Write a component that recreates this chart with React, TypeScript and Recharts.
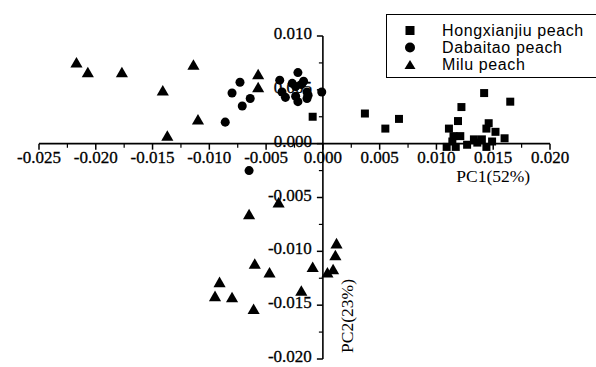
import React from "react";
import {
  ScatterChart,
  Scatter,
  XAxis,
  YAxis,
  ZAxis,
  ReferenceLine,
  ReferenceDot,
} from "recharts";

// PCA scores
const hongxianjiu = [
  { x: -0.0009, y: 0.0025 },
  { x: 0.0037, y: 0.0028 },
  { x: 0.0055, y: 0.0014 },
  { x: 0.0067, y: 0.0023 },
  { x: 0.0142, y: 0.0047 },
  { x: 0.0165, y: 0.0039 },
  { x: 0.0122, y: 0.0034 },
  { x: 0.0119, y: 0.0021 },
  { x: 0.0146, y: 0.0019 },
  { x: 0.0111, y: 0.0014 },
  { x: 0.0144, y: 0.0014 },
  { x: 0.0152, y: 0.0011 },
  { x: 0.0115, y: 0.0007 },
  { x: 0.0121, y: 0.0007 },
  { x: 0.016, y: 0.0005 },
  { x: 0.0133, y: 0.0004 },
  { x: 0.014, y: 0.0004 },
  { x: 0.0149, y: 0.0002 },
  { x: 0.0109, y: -0.0003 },
  { x: 0.0117, y: -0.0003 },
  { x: 0.0127, y: -0.0001 },
  { x: 0.0136, y: 0.0001 },
  { x: 0.0144, y: -0.0003 },
  { x: 0.0114, y: 0.0002 },
];

const dabaitao = [
  { x: -0.0073, y: 0.0057 },
  { x: -0.008, y: 0.0047 },
  { x: -0.0064, y: 0.0042 },
  { x: -0.0071, y: 0.0035 },
  { x: -0.0086, y: 0.002 },
  { x: -0.0065, y: -0.0025 },
  { x: -0.0038, y: 0.0059 },
  { x: -0.0036, y: 0.0048 },
  { x: -0.0033, y: 0.0043 },
  { x: -0.0027, y: 0.0056 },
  { x: -0.0024, y: 0.0053 },
  { x: -0.0024, y: 0.0044 },
  { x: -0.0022, y: 0.0066 },
  { x: -0.0022, y: 0.0039 },
  { x: -0.0019, y: 0.0055 },
  { x: -0.0017, y: 0.0058 },
  { x: -0.0014, y: 0.0048 },
  { x: -0.0014, y: 0.0042 },
  { x: -0.0013, y: 0.0045 },
  { x: -0.0001, y: 0.0048 },
];

const milu = [
  { x: -0.0217, y: 0.0074 },
  { x: -0.0207, y: 0.0065 },
  { x: -0.0177, y: 0.0065 },
  { x: -0.0114, y: 0.0072 },
  { x: -0.0141, y: 0.0048 },
  { x: -0.011, y: 0.0021 },
  { x: -0.0137, y: 0.0006 },
  { x: -0.0057, y: 0.0063 },
  { x: -0.0057, y: 0.0051 },
  { x: -0.0039, y: -0.0056 },
  { x: -0.0065, y: -0.0067 },
  { x: -0.006, y: -0.0113 },
  { x: -0.0047, y: -0.0121 },
  { x: -0.0091, y: -0.013 },
  { x: -0.0095, y: -0.0143 },
  { x: -0.008, y: -0.0144 },
  { x: -0.0061, y: -0.0155 },
  { x: -0.0019, y: -0.0138 },
  { x: -0.0009, y: -0.0116 },
  { x: 0.0004, y: -0.0121 },
  { x: 0.0009, y: -0.0118 },
  { x: 0.0011, y: -0.0105 },
  { x: 0.0012, y: -0.0094 },
];

const xTicks = [-0.025, -0.02, -0.015, -0.01, -0.005, 0, 0.005, 0.01, 0.015, 0.02];
const xMinorTicks = [-0.0225, -0.0175, -0.0125, -0.0075, -0.0025, 0.0025, 0.0075, 0.0125, 0.0175];
const yTicks = [-0.02, -0.015, -0.01, -0.005, 0, 0.005, 0.01];
const yMinorTicks = [-0.0175, -0.0125, -0.0075, -0.0025, 0.0025, 0.0075];

const legendItems = [
  { name: "Hongxianjiu peach", symbol: "square" },
  { name: "Dabaitao peach", symbol: "circle" },
  { name: "Milu peach", symbol: "triangle" },
];

const serif = "'Liberation Serif', 'Times New Roman', serif";
const sans = "'Liberation Sans', Arial, sans-serif";

function LegendIcon({ symbol }: { symbol: string }) {
  if (symbol === "square") return <rect x={18.5} y={4} width={9} height={9} fill="#000" />;
  if (symbol === "circle") return <circle cx={23} cy={8.5} r={5} fill="#000" />;
  return <polygon points="17.5,13 28.5,13 23,4" fill="#000" />;
}

export default function App() {
  return (
    <div
      style={{
        position: "absolute",
        left: 0,
        top: 0,
        width: 596,
        height: 367,
        overflow: "hidden",
        background: "#fff",
      }}
    >
      <ScatterChart
        width={596}
        height={367}
        margin={{ top: 36, right: 46, bottom: 8, left: 39 }}
      >
        <XAxis type="number" dataKey="x" domain={[-0.025, 0.02]} hide />
        <YAxis type="number" dataKey="y" domain={[-0.02, 0.01]} hide />
        <ZAxis zAxisId="sq" range={[68, 68]} />
        <ZAxis zAxisId="ci" range={[60, 60]} />
        <ZAxis zAxisId="tr" range={[52, 52]} />

        <ReferenceLine x={0} stroke="#000" strokeWidth={1.6} />
        <ReferenceLine y={0} stroke="#000" strokeWidth={1.6} />

        {xTicks.map((t) => (
          <ReferenceDot
            key={"xt" + t}
            x={t}
            y={0}
            ifOverflow="visible"
            shape={(p: any) => (
              <g>
                <line x1={p.cx} y1={p.cy} x2={p.cx} y2={p.cy + 6} stroke="#000" strokeWidth={1.5} />
                <text
                  x={p.cx}
                  y={p.cy + 19}
                  textAnchor="middle"
                  fontFamily={serif}
                  fontSize={17}
                  fill="#000"
                  stroke="#000"
                  strokeWidth={0.3}
                >
                  {t.toFixed(3)}
                </text>
              </g>
            )}
          />
        ))}
        {xMinorTicks.map((t) => (
          <ReferenceDot
            key={"xm" + t}
            x={t}
            y={0}
            ifOverflow="visible"
            shape={(p: any) => (
              <line x1={p.cx} y1={p.cy} x2={p.cx} y2={p.cy + 4} stroke="#000" strokeWidth={1.2} />
            )}
          />
        ))}
        {yTicks.map((t) => (
          <ReferenceDot
            key={"yt" + t}
            x={0}
            y={t}
            ifOverflow="visible"
            shape={(p: any) => (
              <g>
                <line x1={p.cx - 6} y1={p.cy} x2={p.cx} y2={p.cy} stroke="#000" strokeWidth={1.5} />
                <text
                  x={p.cx - 11}
                  y={p.cy + 3}
                  textAnchor="end"
                  fontFamily={serif}
                  fontSize={17}
                  fill="#000"
                  stroke="#000"
                  strokeWidth={0.3}
                >
                  {t.toFixed(3)}
                </text>
              </g>
            )}
          />
        ))}
        {yMinorTicks.map((t) => (
          <ReferenceDot
            key={"ym" + t}
            x={0}
            y={t}
            ifOverflow="visible"
            shape={(p: any) => (
              <line x1={p.cx - 4} y1={p.cy} x2={p.cx} y2={p.cy} stroke="#000" strokeWidth={1.2} />
            )}
          />
        ))}

        <ReferenceDot
          x={0.015}
          y={0}
          ifOverflow="visible"
          shape={(p: any) => (
            <text
              x={p.cx}
              y={p.cy + 38}
              textAnchor="middle"
              fontFamily={serif}
              fontSize={17.5}
              fill="#000"
            >
              PC1(52%)
            </text>
          )}
        />
        <ReferenceDot
          x={0}
          y={-0.016}
          ifOverflow="visible"
          shape={(p: any) => (
            <text
              x={p.cx + 30}
              y={p.cy}
              textAnchor="middle"
              fontFamily={serif}
              fontSize={17.5}
              fill="#000"
              transform={`rotate(-90 ${p.cx + 30} ${p.cy})`}
            >
              PC2(23%)
            </text>
          )}
        />

        <Scatter
          name="Hongxianjiu peach"
          data={hongxianjiu}
          zAxisId="sq"
          shape="square"
          fill="#000"
          isAnimationActive={false}
        />
        <Scatter
          name="Dabaitao peach"
          data={dabaitao}
          zAxisId="ci"
          shape="circle"
          fill="#000"
          isAnimationActive={false}
        />
        <Scatter
          name="Milu peach"
          data={milu}
          zAxisId="tr"
          shape="triangle"
          fill="#000"
          isAnimationActive={false}
        />
      </ScatterChart>

      <div
        style={{
          position: "absolute",
          left: 386,
          top: 14,
          width: 220,
          height: 64,
          border: "1px solid #000",
          boxSizing: "border-box",
          paddingTop: 7,
          fontFamily: sans,
          fontSize: 16,
          letterSpacing: 0.6,
          lineHeight: "17px",
        }}
      >
        {legendItems.map((it) => (
          <div key={it.name} style={{ display: "flex", alignItems: "center", height: 17 }}>
            <svg width={55} height={17}>
              <LegendIcon symbol={it.symbol} />
            </svg>
            <span>{it.name}</span>
          </div>
        ))}
      </div>
    </div>
  );
}
